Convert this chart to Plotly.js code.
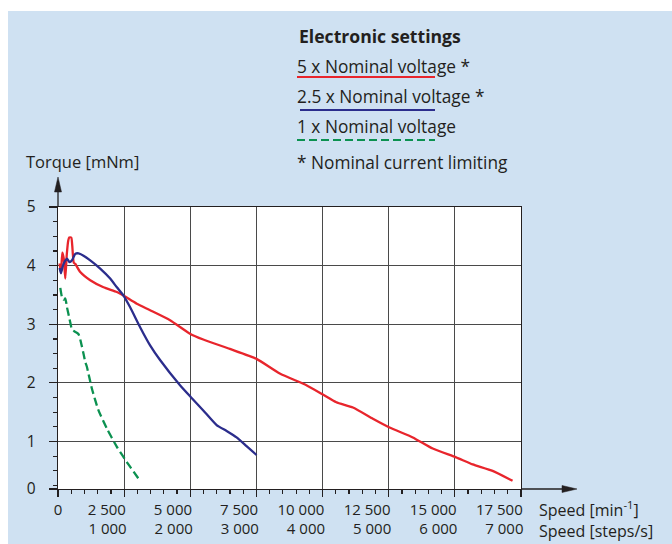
<!DOCTYPE html>
<html>
<head>
<meta charset="utf-8">
<script src="https://cdn.plot.ly/plotly-3.0.1.min.js"></script>
<style>
  html, body { margin: 0; padding: 0; background: #ffffff; width: 672px; height: 544px; overflow: hidden; }
  #chart { position: absolute; left: 8px; top: 11px; width: 664px; height: 533px; }
</style>
</head>
<body>
<div id="chart"></div>
<script>
// ---- data ----
const speedRed = [60, 113, 162, 219, 275, 332, 388, 426, 502, 539, 596, 652, 841, 1218, 1720, 2225, 2474, 2979, 3481, 4235, 4989, 5491, 6497, 7504, 8383, 9390, 10016, 10521, 11147, 11901, 12531, 13410, 14164, 15046, 15672, 16426, 17181];
const torqueRed = [4.04, 3.88, 4.22, 4.12, 3.78, 4.19, 4.43, 4.48, 4.48, 4.34, 4.05, 4.03, 3.89, 3.75, 3.63, 3.55, 3.49, 3.35, 3.24, 3.07, 2.84, 2.74, 2.58, 2.41, 2.16, 1.96, 1.80, 1.67, 1.58, 1.39, 1.24, 1.07, 0.88, 0.73, 0.61, 0.50, 0.33];

const speedBlue = [60, 113, 181, 256, 339, 437, 528, 652, 777, 965, 1218, 1595, 1972, 2225, 2474, 2727, 3104, 3481, 3858, 4612, 5015, 5491, 5996, 6373, 6750, 7127, 7504];
const torqueBlue = [3.96, 3.87, 3.99, 4.07, 4.12, 4.06, 4.09, 4.20, 4.21, 4.17, 4.09, 3.95, 3.78, 3.63, 3.49, 3.29, 2.95, 2.64, 2.39, 1.96, 1.76, 1.53, 1.28, 1.18, 1.07, 0.92, 0.77];

const speedGreen = [87, 151, 211, 275, 339, 464, 528, 652, 777, 905, 1030, 1094, 1282, 1531, 1848, 2225, 2602, 3039];
const torqueGreen = [3.62, 3.46, 3.42, 3.44, 3.29, 3.03, 2.91, 2.87, 2.83, 2.62, 2.36, 2.27, 1.90, 1.53, 1.22, 0.91, 0.65, 0.37];

const speedTicks = [0, 2500, 5000, 7500, 10000, 12500, 15000, 17500];
const speedMinLabels = ['0', '2 500', '5 000', '7 500', '10 000', '12 500', '15 000', '17 500'];
const stepsTicks = [2500, 5000, 7500, 10000, 12500, 15000, 17500];
const speedStepsLabels = ['1 000', '2 000', '3 000', '4 000', '5 000', '6 000', '7 000'];

const torqueTicks = [0.19, 1, 2, 3, 4, 5];
const torqueLabels = ['0', '1', '2', '3', '4', '5'];

const seriesNames = ['5 x Nominal voltage *', '2.5 x Nominal voltage *', '1 x Nominal voltage'];
const legendTitle = 'Electronic settings';
const footnote = '* Nominal current limiting';
const yTitle = 'Torque [mNm]';
const xTitle1 = 'Speed [min<sup>-1</sup>]';
const xTitle2 = 'Speed [steps/s]';

// ---- styling ----
const FONT = '"Open Sans", "Noto Sans", sans-serif';
const TXT = '#231f20';
const INK = '#231f20';
const RED = '#e8252c', BLUE = '#2b2d8c', GREEN = '#0b9150';

// page pixel -> paper coordinates (plot area: x 58..521, y 207..489 on page)
const X = px => (px - 58) / 463;
const Y = py => (489 - py) / 282;

const traces = [
  {x: speedRed, y: torqueRed, mode: 'lines', name: seriesNames[0], line: {color: RED, width: 2.3, shape: 'spline', smoothing: 0.5}},
  {x: speedBlue, y: torqueBlue, mode: 'lines', name: seriesNames[1], line: {color: BLUE, width: 2.3, shape: 'spline', smoothing: 0.5}},
  {x: speedGreen, y: torqueGreen, mode: 'lines', name: seriesNames[2], line: {color: GREEN, width: 2.3, dash: '8px,4px', shape: 'spline', smoothing: 0.5}},
  // empty carriers for the extra label axes
  {x: [], y: [], xaxis: 'x2', yaxis: 'y', mode: 'lines', showlegend: false, hoverinfo: 'skip'},
  {x: [], y: [], xaxis: 'x3', yaxis: 'y', mode: 'lines', showlegend: false, hoverinfo: 'skip'}
];

const LEG = 17.3;
const annotations = [
  {text: '<b>' + legendTitle + '</b>', x: X(298), y: Y(36), xanchor: 'left', yanchor: 'middle', font: {size: 17.6}},
  {text: seriesNames[0], x: X(296), y: Y(66), xanchor: 'left', yanchor: 'middle', font: {size: LEG}},
  {text: seriesNames[1], x: X(296), y: Y(96), xanchor: 'left', yanchor: 'middle', font: {size: LEG}},
  {text: seriesNames[2], x: X(296), y: Y(126), xanchor: 'left', yanchor: 'middle', font: {size: LEG}},
  {text: footnote, x: X(296), y: Y(162), xanchor: 'left', yanchor: 'middle', font: {size: LEG}},
  {text: yTitle, x: X(25), y: Y(161), xanchor: 'left', yanchor: 'middle', font: {size: 16.5}},
  {text: xTitle1 + '<br>' + xTitle2, x: X(538), y: Y(519), xanchor: 'left', yanchor: 'middle', align: 'left', font: {size: 16}}
].map(a => Object.assign({xref: 'paper', yref: 'paper', showarrow: false, borderpad: 0}, a));

const shapes = [
  // legend underlines
  {type: 'line', x0: X(297), x1: X(435), y0: Y(77), y1: Y(77), line: {color: RED, width: 2}},
  {type: 'line', x0: X(300), x1: X(435), y0: Y(110), y1: Y(110), line: {color: BLUE, width: 2}},
  {type: 'line', x0: X(297), x1: X(435), y0: Y(140), y1: Y(140), line: {color: GREEN, width: 2, dash: '8px,4px'}},
  // axis arrows
  {type: 'line', x0: X(521), x1: X(563), y0: Y(489), y1: Y(489), line: {color: INK, width: 1.3}},
  {type: 'path', path: `M ${X(562)},${Y(485.5)} L ${X(577)},${Y(489)} L ${X(562)},${Y(492.5)} Z`, fillcolor: INK, line: {color: INK, width: 0.5}},
  {type: 'line', x0: X(58), x1: X(58), y0: Y(207), y1: Y(191), line: {color: INK, width: 1.3}},
  {type: 'path', path: `M ${X(54.5)},${Y(192)} L ${X(58)},${Y(177)} L ${X(61.5)},${Y(192)} Z`, fillcolor: INK, line: {color: INK, width: 0.5}}
].map(s => Object.assign({xref: 'paper', yref: 'paper', layer: 'above'}, s));

const TICKFONT = {size: 15, color: TXT};
const layout = {
  width: 664, height: 533,
  margin: {l: 50, r: 151, t: 196, b: 55},
  paper_bgcolor: '#cfe1f2',
  plot_bgcolor: '#ffffff',
  showlegend: false,
  font: {family: FONT, size: 15, color: TXT},
  xaxis: {
    range: [0, 17500],
    tickmode: 'array', tickvals: speedTicks.slice(1), ticktext: speedMinLabels.slice(1),
    ticklabelposition: 'outside left', ticklabelstandoff: 7, ticklabelshift: 3,
    ticks: 'outside', ticklen: 7, tickcolor: INK, tickwidth: 1.2,
    showgrid: true, gridcolor: '#4a4a4a', gridwidth: 1.2,
    showline: true, linecolor: INK, linewidth: 1.3, mirror: true,
    zeroline: false,
    tickfont: TICKFONT,
    minor: {dtick: 500, tick0: 0, ticks: 'outside', ticklen: 4, tickcolor: INK, showgrid: false}
  },
  xaxis2: {
    overlaying: 'x', matches: 'x', anchor: 'y', side: 'bottom',
    range: [0, 17500],
    tickmode: 'array', tickvals: stepsTicks, ticktext: speedStepsLabels,
    ticklabelposition: 'outside left', ticklabelstandoff: 26, ticklabelshift: 3,
    ticks: 'outside', ticklen: 7, tickcolor: 'rgba(0,0,0,0)',
    showgrid: false, showline: false, zeroline: false,
    tickfont: TICKFONT
  },
  xaxis3: {
    overlaying: 'x', matches: 'x', anchor: 'y', side: 'bottom',
    range: [0, 17500],
    tickmode: 'array', tickvals: [speedTicks[0]], ticktext: [speedMinLabels[0]],
    ticklabelstandoff: 0,
    ticks: 'outside', ticklen: 7, tickcolor: INK, tickwidth: 1.2,
    showgrid: false, showline: false, zeroline: false,
    tickfont: TICKFONT
  },
  yaxis: {
    range: [0.19, 5],
    tickmode: 'array', tickvals: torqueTicks, ticktext: torqueLabels,
    ticklabelstandoff: 10,
    ticks: 'outside', ticklen: 8, tickcolor: INK, tickwidth: 1.2,
    showgrid: true, gridcolor: '#4a4a4a', gridwidth: 1.2,
    showline: true, linecolor: INK, linewidth: 1.3, mirror: true,
    zeroline: false,
    tickfont: {size: 15.5, color: TXT},
    minor: {dtick: 0.25, tick0: 0, ticks: 'outside', ticklen: 4, tickcolor: INK, showgrid: false}
  },
  annotations: annotations,
  shapes: shapes
};

Plotly.newPlot('chart', traces, layout, {staticPlot: true, displayModeBar: false});
</script>
</body>
</html>
